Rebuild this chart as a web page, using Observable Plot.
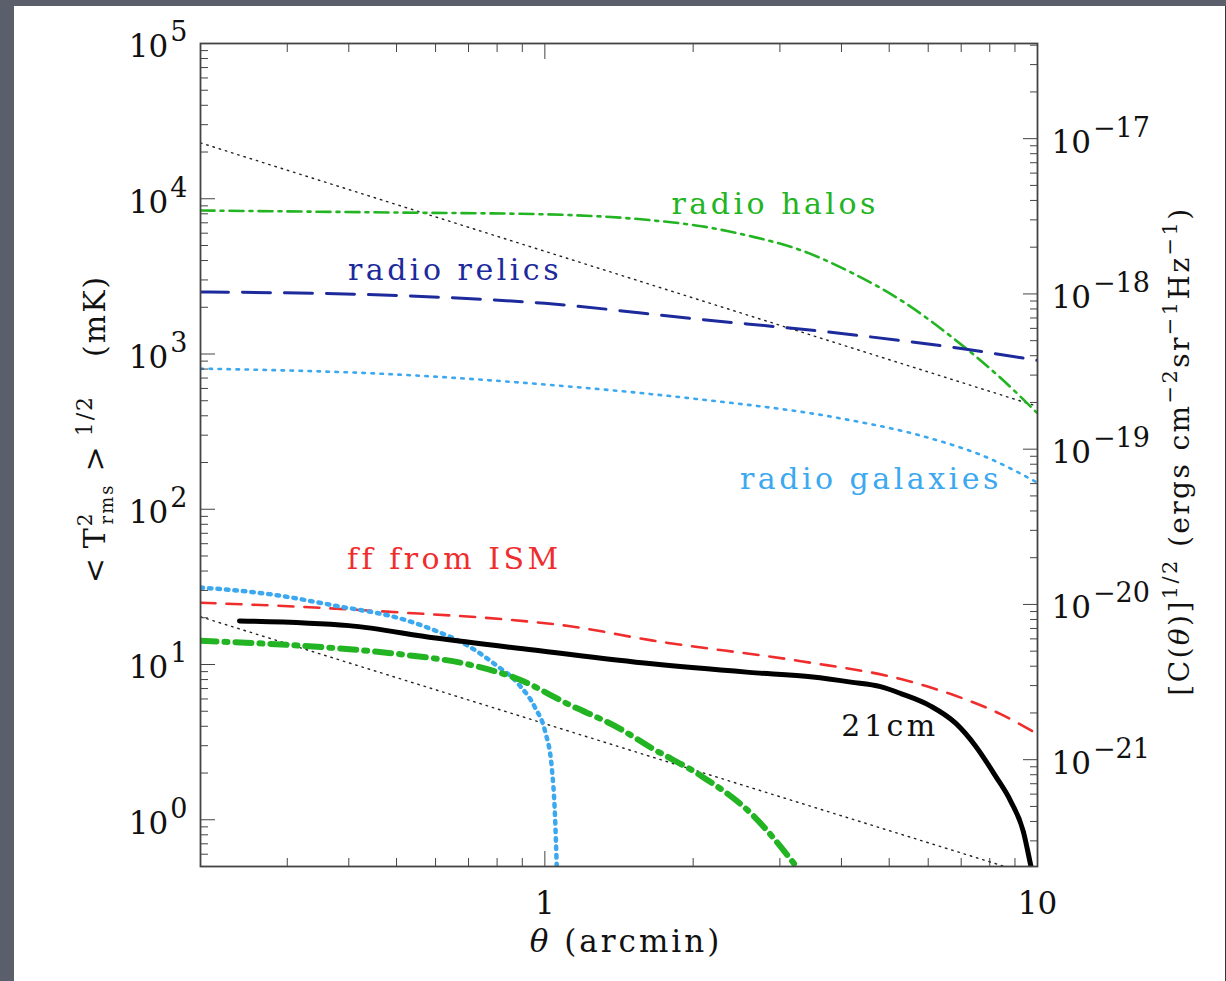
<!DOCTYPE html>
<html><head><meta charset="utf-8">
<script src="https://cdn.jsdelivr.net/npm/d3@7"></script>
<script src="https://cdn.jsdelivr.net/npm/@observablehq/plot@0.6"></script>
<style>
html,body{margin:0;padding:0;background:#5b5f6b;width:1226px;height:981px;overflow:hidden}
#panel{position:absolute;left:14px;top:6px;width:1211px;height:975px;background:#fff;border-right:1px solid #333}
</style></head><body><div id="panel"></div>
<script>
// ---------- data (theta in arcmin, T in mK) ----------
const upperDotTheta = [0.2, 10];
const upperDotT = [22900, 460];
const lowerDotTheta = [0.2, 10];
const lowerDotT = [20.3, 0.43];

const haloTheta = [0.2, 0.5, 1.0, 1.65, 2.08, 2.62, 3.31, 4.18, 5.28, 6.67, 8.42, 10];
const haloT = [8400, 8150, 7940, 7260, 6650, 5730, 4660, 3360, 2220, 1300, 700, 415];

const relicTheta = [0.2, 0.5, 1, 2, 4, 7, 10];
const relicT = [2510, 2380, 2120, 1690, 1355, 1085, 910];

const galaxyTheta = [0.2, 0.5, 1, 2, 4, 6, 8, 10];
const galaxyT = [805, 738, 636, 516, 384, 289, 212, 148];

const ismTheta = [0.2, 0.322, 0.514, 0.818, 1.117, 1.647, 3.31, 5.28, 6.67, 8.42, 10];
const ismT = [25.0, 23.5, 21.6, 19.6, 17.7, 14.3, 10.5, 8.06, 6.45, 4.79, 3.56];

const cm21Theta = [0.24, 0.4, 0.6, 0.95, 1.65, 2.6, 3.5, 4.18, 4.8, 5.28, 6.07, 6.82, 7.49, 8.22, 8.82, 9.36, 9.7, 9.85];
const cm21T = [19.1, 17.8, 14.8, 12.4, 10.1, 8.9, 8.3, 7.7, 7.2, 6.5, 5.40, 4.19, 2.98, 1.91, 1.32, 0.84, 0.5, 0.4];

const smallGalTheta = [0.2, 0.276, 0.376, 0.514, 0.6, 0.701, 0.793, 0.885, 0.956, 1.001, 1.033, 1.049, 1.057];
const smallGalT = [31.3, 28.4, 23.9, 19.6, 16.5, 13.1, 10.0, 7.45, 5.26, 3.72, 2.16, 1.03, 0.51];

const smallHaloTheta = [0.2, 0.322, 0.514, 0.701, 0.885, 1.117, 1.41, 1.647, 2.08, 2.62, 3.24];
const smallHaloT = [14.2, 13.2, 11.6, 10.0, 8.03, 5.54, 3.91, 2.90, 1.91, 1.10, 0.5];

// labels
const labelText = ["radio halos", "radio relics", "radio galaxies", "ff from ISM", "21cm"];
const labelTheta = [2.935, 0.657, 4.59, 0.655, 5.02];
const labelT = [9215, 3457, 155, 47.2, 4.01];

// axes
const thetaDomain = [0.2, 10];
const tDomain = [0.5, 1e5];
const xMajor = [1, 10];
const xMajorLabels = ["1", "10"];
const xMinor = [0.3, 0.4, 0.5, 0.6, 0.7, 0.8, 0.9, 2, 3, 4, 5, 6, 7, 8, 9];
const yMajor = [1, 10, 100, 1000, 10000, 100000];
const yMajorLabels = ["10^0", "10^1", "10^2", "10^3", "10^4", "10^5"];
const yMinor = [0.6, 0.7, 0.8, 0.9, 2, 3, 4, 5, 6, 7, 8, 9, 20, 30, 40, 50, 60, 70, 80, 90,
  200, 300, 400, 500, 600, 700, 800, 900, 2000, 3000, 4000, 5000, 6000, 7000, 8000, 9000,
  20000, 30000, 40000, 50000, 60000, 70000, 80000, 90000];
const rightMajor = [1e-21, 1e-20, 1e-19, 1e-18, 1e-17];
const rightMajorLabels = ["10^−21", "10^−20", "10^−19", "10^−18", "10^−17"];
const rightMinor = [3e-22, 4e-22, 5e-22, 6e-22, 7e-22, 8e-22, 9e-22,
  2e-21, 3e-21, 4e-21, 5e-21, 6e-21, 7e-21, 8e-21, 9e-21,
  2e-20, 3e-20, 4e-20, 5e-20, 6e-20, 7e-20, 8e-20, 9e-20,
  2e-19, 3e-19, 4e-19, 5e-19, 6e-19, 7e-19, 8e-19, 9e-19,
  2e-18, 3e-18, 4e-18, 5e-18, 6e-18, 7e-18, 8e-18, 9e-18,
  2e-17, 3e-17, 4e-17];
const cToT = Math.pow(10, 21.387); // [C]^1/2 -> mK conversion
const rightMajorT = rightMajor.map(r => r * cToT);
const rightMinorT = rightMinor.map(r => r * cToT);

const leftTitle = "< T2rms >1/2 (mK)";
const rightTitle = "[C(θ)]1/2 (ergs cm−2sr−1Hz−1)";
const xTitle = "θ (arcmin)";

// ---------- chart ----------
const GREEN = "#22b422", NAVY = "#1c2a9c", SKY = "#3ca8f0", RED = "#f02d2d", INK = "#111";
const AX = "#444";
const line = (xs, ys, o) => Plot.line(ys, {x: xs, y: ys, clip: true, curve: "monotone-x", ...o});
const lab = (i, fill) => Plot.text([labelText[i]], {x: [labelTheta[i]], y: [labelT[i]], text: d => d,
  fill, fontSize: 30, stroke: "white", strokeWidth: 5});
const near = (arr, d) => arr.findIndex(v => Math.abs(Math.log10(v) - Math.log10(d)) < 0.01);

const chart = Plot.plot({
  width: 1211, height: 975,
  marginLeft: 186, marginRight: 188, marginTop: 37, marginBottom: 115,
  style: {fontFamily: "DejaVu Serif", background: "white", color: INK, overflow: "visible"},
  x: {type: "log", domain: thetaDomain, label: null},
  y: {type: "log", domain: tDomain, label: null},
  marks: [
    line(upperDotTheta, upperDotT, {stroke: "#222", strokeWidth: 1.4, strokeDasharray: "1.5,5", curve: "linear"}),
    line(lowerDotTheta, lowerDotT, {stroke: "#222", strokeWidth: 1.4, strokeDasharray: "1.5,5", curve: "linear"}),
    line(haloTheta, haloT, {stroke: GREEN, strokeWidth: 2.6, strokeDasharray: "14,6,3,6"}),
    line(relicTheta, relicT, {stroke: NAVY, strokeWidth: 3, strokeDasharray: "28,14"}),
    line(galaxyTheta, galaxyT, {stroke: SKY, strokeWidth: 2.6, strokeDasharray: "2.5,6.5"}),
    line(ismTheta, ismT, {stroke: RED, strokeWidth: 2.6, strokeDasharray: "15,11"}),
    line(smallGalTheta, smallGalT, {stroke: SKY, strokeWidth: 4.5, strokeDasharray: "2.5,6"}),
    line(smallHaloTheta, smallHaloT, {stroke: GREEN, strokeWidth: 6, strokeDasharray: "16,8,3,8"}),
    line(cm21Theta, cm21T, {stroke: "#000", strokeWidth: 5}),
    lab(0, GREEN), lab(1, NAVY), lab(2, SKY), lab(3, RED), lab(4, INK),
    Plot.frame({stroke: AX, strokeWidth: 1.8}),
    Plot.axisX({anchor: "bottom", ticks: xMinor, tickSize: -8, fill: "none", stroke: AX, label: null}),
    Plot.axisX({anchor: "bottom", ticks: xMajor, tickSize: -15, fill: "none", stroke: AX, label: null}),
    Plot.axisX({anchor: "top", ticks: xMinor, tickSize: -8, fill: "none", stroke: AX, label: null}),
    Plot.axisX({anchor: "top", ticks: xMajor, tickSize: -15, fill: "none", stroke: AX, label: null}),
    Plot.axisX({anchor: "bottom", ticks: xMajor, tickSize: 0, tickPadding: 25, fontSize: 31, fill: INK,
      tickFormat: d => xMajorLabels[near(xMajor, d)], label: null}),
    Plot.axisY({anchor: "left", ticks: yMinor, tickSize: -8, fill: "none", stroke: AX, label: null}),
    Plot.axisY({anchor: "left", ticks: yMajor, tickSize: -15, fill: "none", stroke: AX, label: null}),
    Plot.axisY({anchor: "left", ticks: yMajor, tickSize: 0, tickPadding: 13, fontSize: 31, fill: INK, dy: 4,
      tickFormat: d => yMajorLabels[near(yMajor, d)], label: null}),
    Plot.axisY({anchor: "right", ticks: rightMinorT, tickSize: -8, fill: "none", stroke: AX, label: null}),
    Plot.axisY({anchor: "right", ticks: rightMajorT, tickSize: -15, fill: "none", stroke: AX, label: null}),
    Plot.text(rightMajorLabels, {y: rightMajorT, text: rightMajorLabels, frameAnchor: "right", textAnchor: "start",
      lineAnchor: "middle", dx: 14, dy: 4, fontSize: 31, fill: INK}),
    Plot.text([leftTitle], {frameAnchor: "left", text: d => d, rotate: -90, textAnchor: "middle", lineAnchor: "middle",
      dx: -105, dy: -26, fontSize: 30, fill: INK}),
    Plot.text([rightTitle], {frameAnchor: "right", text: d => d, rotate: -90, textAnchor: "middle", lineAnchor: "middle",
      dx: 143, dy: -4, fontSize: 28, fill: INK}),
    Plot.text([xTitle], {frameAnchor: "bottom", text: d => d, textAnchor: "middle", lineAnchor: "middle",
      dx: 7, dy: 76, fontSize: 31, fill: INK})
  ]
});

// ---------- rich text (superscripts / subscripts) ----------
function rich(el, parts) {
  const s = d3.select(el);
  s.text(null);
  for (const p of parts) {
    const t = s.append("tspan").text(p.t);
    if (p.fs) t.attr("font-size", p.fs);
    if (p.dx) t.attr("dx", p.dx);
    if (p.dy) t.attr("dy", p.dy);
    if (p.it) t.attr("font-style", "italic");
  }
}
chart.querySelectorAll("text").forEach(el => {
  const s = el.textContent;
  const m = s.match(/^10\^(.+)$/);
  if (m) {
    rich(el, [{t: "10"}, {t: m[1], fs: 27, dx: 2, dy: -16}]);
  } else if (s === leftTitle) {
    el.setAttribute("letter-spacing", "2");
    rich(el, [{t: "<"}, {t: "T", dx: 8}, {t: "2", fs: 20, dy: -13}, {t: "rms", fs: 18, dx: -13, dy: 21},
      {t: ">", dx: 12, dy: -8}, {t: "1/2", fs: 22, dx: 8, dy: -13}, {t: "(mK)", dx: 38, dy: 13}]);
  } else if (s === rightTitle) {
    el.setAttribute("letter-spacing", "2.4");
    rich(el, [{t: "[C("}, {t: "θ", it: true}, {t: ")]"}, {t: "1/2", fs: 21, dy: -12},
      {t: " (ergs cm", dy: 12}, {t: "−2", fs: 21, dy: -12}, {t: "sr", dy: 12},
      {t: "−1", fs: 21, dy: -12}, {t: "Hz", dy: 12}, {t: "−1", fs: 21, dy: -12}, {t: ")", dy: 12}]);
  } else if (s === xTitle) {
    el.setAttribute("letter-spacing", "3");
    rich(el, [{t: "θ", it: true}, {t: " (arcmin)"}]);
  } else if (labelText.includes(s)) {
    el.setAttribute("letter-spacing", "3.5");
  }
});
document.getElementById("panel").appendChild(chart);
</script></body></html>
